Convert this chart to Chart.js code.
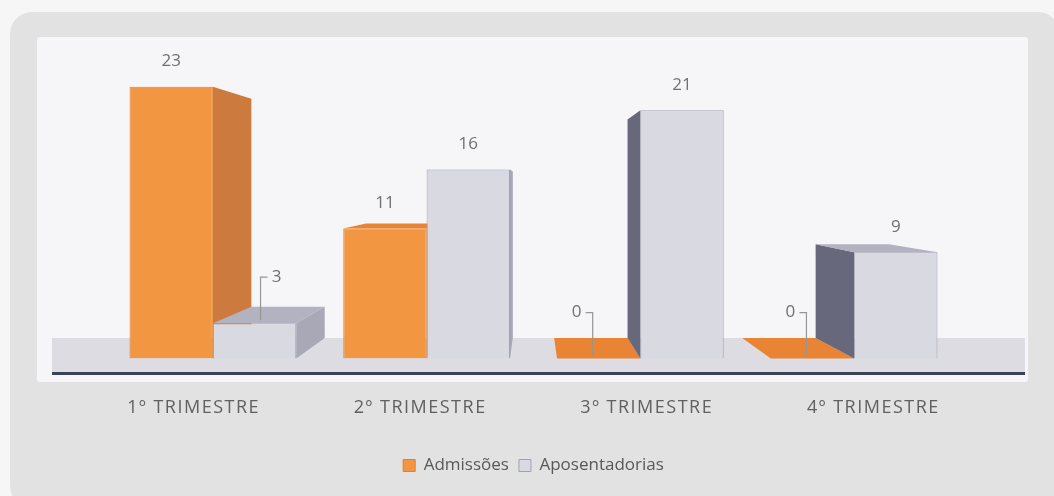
<!DOCTYPE html>
<html>
<head>
<meta charset="utf-8">
<script src="https://cdn.jsdelivr.net/npm/chart.js@4/dist/chart.umd.min.js"></script>
<style>
  body { margin: 0; background: #f4f4f4; }
  canvas { display: block; }
</style>
</head>
<body>
<canvas id="myChart" width="1054" height="496"></canvas>
<script>
const categories = ['1º TRIMESTRE', '2º TRIMESTRE', '3º TRIMESTRE', '4º TRIMESTRE'];
const admissoes = [23, 11, 0, 0];
const aposentadorias = [3, 16, 21, 9];
const seriesNames = ['Admissões', 'Aposentadorias'];

// colours for front / side / top faces of the 3D boxes
const faceColors = [
  { front: 'rgb(243,150,66)', border: 'rgb(228,128,40)', sideR: 'rgb(205,122,62)', sideL: 'rgb(205,122,62)', top: 'rgb(232,132,52)' },
  { front: 'rgb(217,217,226)', border: 'rgb(160,160,178)', sideR: 'rgb(168,168,182)', sideL: 'rgb(104,104,124)', top: 'rgb(178,178,192)' }
];

const vanish = { y: 187, s: 0.88 };

function back(vx, px, py) {
  return [vx + (px - vx) * vanish.s, vanish.y + (py - vanish.y) * vanish.s];
}

function poly(ctx, pts, fill) {
  ctx.beginPath();
  ctx.moveTo(pts[0][0], pts[0][1]);
  for (let i = 1; i < pts.length; i++) ctx.lineTo(pts[i][0], pts[i][1]);
  ctx.closePath();
  ctx.fillStyle = fill;
  ctx.fill();
}

function roundRect(ctx, x, y, w, h, r, fill) {
  ctx.beginPath();
  ctx.roundRect(x, y, w, h, r);
  ctx.fillStyle = fill;
  ctx.fill();
}

const box3d = {
  id: 'box3d',
  beforeDraw(chart) {
    const ctx = chart.ctx;
    const area = chart.chartArea;
    ctx.save();
    ctx.fillStyle = '#f6f6f6';
    ctx.fillRect(0, 0, chart.width, chart.height);
    roundRect(ctx, 10, 12, chart.width - 4, chart.height, 22, 'rgb(226,226,226)');
    roundRect(ctx, 37, 37, 991, 345, 3, 'rgb(246,245,247)');
    // floor
    const fy = back((area.left + area.right) / 2, 0, area.bottom)[1];
    ctx.fillStyle = 'rgb(220,220,226)';
    ctx.fillRect(52, fy, 973, 372 - fy);
    ctx.fillStyle = 'rgb(58,66,84)';
    ctx.fillRect(52, 372, 973, 3);
    ctx.restore();
  },
  beforeDatasetsDraw(chart) {
    const ctx = chart.ctx;
    const area = chart.chartArea;
    const vx = (area.left + area.right) / 2;
    ctx.save();
    chart.data.datasets.forEach((ds, di) => {
      const c = faceColors[di];
      chart.getDatasetMeta(di).data.forEach(bar => {
        const p = bar.getProps(['x', 'y', 'base', 'width'], true);
        const l = p.x - p.width / 2, r = p.x + p.width / 2;
        const t = Math.min(p.y, p.base), b = p.base;
        if (p.x < vx) {
          poly(ctx, [[r, t], back(vx, r, t), back(vx, r, b), [r, b]], c.sideR);
        } else {
          poly(ctx, [[l, t], back(vx, l, t), back(vx, l, b), [l, b]], c.sideL);
        }
        if (t > vanish.y) {
          poly(ctx, [[l, t], [r, t], back(vx, r, t), back(vx, l, t)], c.top);
        }
      });
    });
    ctx.restore();
  },
  afterDatasetsDraw(chart) {
    const ctx = chart.ctx;
    const area = chart.chartArea;
    const vx = (area.left + area.right) / 2;
    ctx.save();
    ctx.font = '17px "Open Sans"';
    ctx.textAlign = 'center';
    ctx.textBaseline = 'middle';
    chart.data.datasets.forEach((ds, di) => {
      chart.getDatasetMeta(di).data.forEach((bar, i) => {
        const v = ds.data[i];
        const p = bar.getProps(['x', 'y', 'base'], true);
        ctx.fillStyle = 'rgb(112,112,112)';
        if (v >= 5) {
          ctx.fillText(String(v), p.x, p.y - 25);
        } else {
          const sign = p.x < vx ? 1 : -1;
          const lx = p.x + sign * 22, ly = p.y - 46;
          ctx.fillText(String(v), lx, ly);
          const ex = p.x + sign * 6;
          ctx.strokeStyle = 'rgb(150,150,150)';
          ctx.lineWidth = 1.2;
          ctx.beginPath();
          ctx.moveTo(lx - sign * 9, ly);
          ctx.lineTo(ex, ly);
          ctx.lineTo(ex, p.y - 3);
          ctx.stroke();
        }
      });
    });
    // category labels, spread a little like the perspective floor edge
    const xs = chart.scales.x;
    ctx.fillStyle = 'rgb(96,96,96)';
    ctx.font = '18px "Open Sans"';
    ctx.letterSpacing = '1.5px';
    categories.forEach((label, i) => {
      const tx = xs.getPixelForTick(i);
      ctx.fillText(label, vx + (tx - vx) * 1.06, 408);
    });
    ctx.restore();
  }
};

new Chart(document.getElementById('myChart'), {
  type: 'bar',
  data: {
    labels: categories,
    datasets: [
      {
        label: seriesNames[0],
        data: admissoes,
        backgroundColor: faceColors[0].front,
        borderColor: faceColors[0].border,
        borderWidth: 1,
        categoryPercentage: 0.78,
        barPercentage: 1.0
      },
      {
        label: seriesNames[1],
        data: aposentadorias,
        backgroundColor: faceColors[1].front,
        borderColor: faceColors[1].border,
        borderWidth: 1,
        categoryPercentage: 0.78,
        barPercentage: 1.0
      }
    ]
  },
  options: {
    responsive: false,
    animation: false,
    layout: { padding: { left: 106, right: 93, top: 63, bottom: 12 } },
    scales: {
      x: {
        grid: { display: false },
        border: { display: false },
        ticks: { color: 'rgba(0,0,0,0)', font: { size: 17, family: 'Open Sans' }, padding: 30 }
      },
      y: { display: false, min: 0, max: 25 }
    },
    plugins: {
      tooltip: { enabled: false },
      legend: {
        position: 'bottom',
        labels: {
          boxWidth: 12,
          boxHeight: 12,
          color: 'rgb(88,88,88)',
          font: { size: 17, family: 'Open Sans' },
          generateLabels(chart) {
            return chart.data.datasets.map((ds, i) => ({
              text: ds.label,
              fillStyle: faceColors[i].front,
              strokeStyle: faceColors[i].border,
              lineWidth: 1,
              fontColor: 'rgb(88,88,88)',
              datasetIndex: i
            }));
          }
        }
      }
    }
  },
  plugins: [box3d]
});
</script>
</body>
</html>
